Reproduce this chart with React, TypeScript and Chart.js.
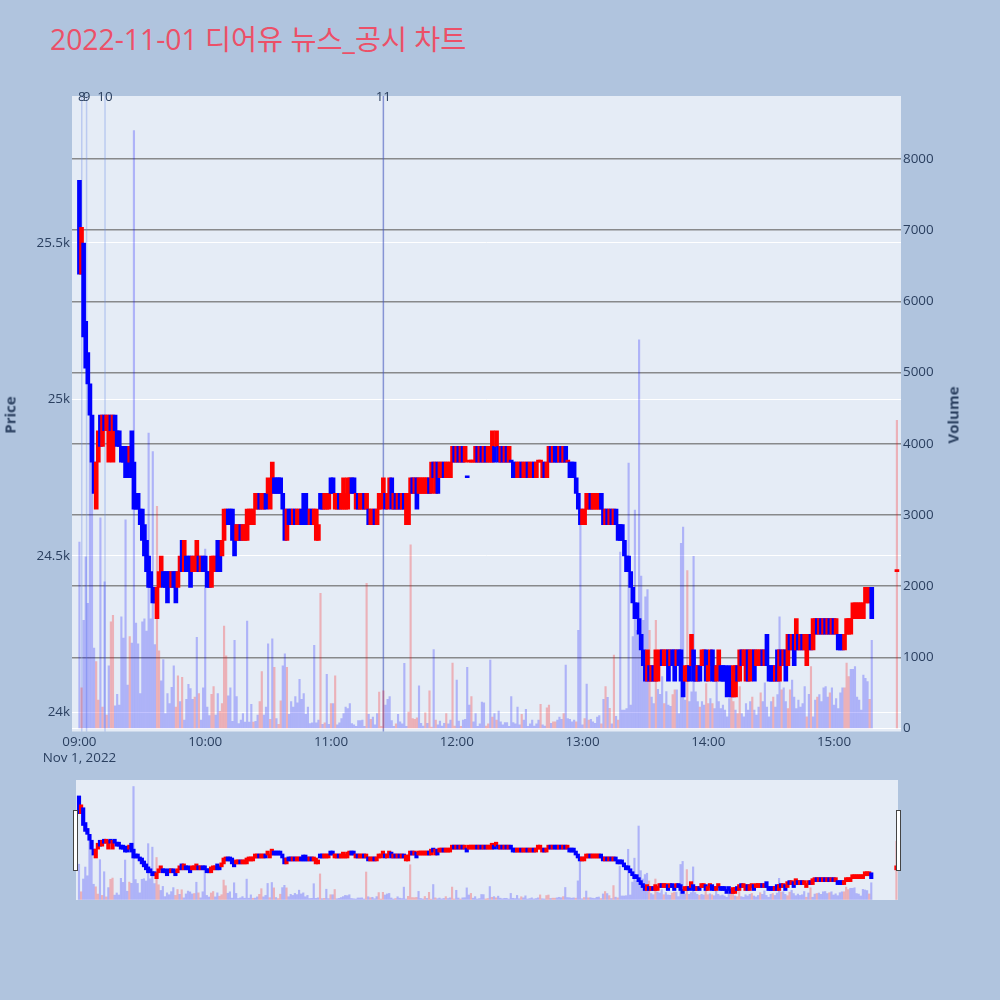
import React, { useEffect, useRef } from 'react';
import { Chart, registerables } from 'chart.js';

Chart.register(...registerables);

const TITLE = '2022-11-01 디어유 뉴스_공시 차트';
const DATE_LABEL = 'Nov 1, 2022';
const PRICE_TITLE = 'Price';
const VOLUME_TITLE = 'Volume';

// minutes after 09:00 for the x axis ticks
const timeTicks = [0, 60, 120, 180, 240, 300, 360];
const priceTicks = [24000, 24500, 25000, 25500];
const volumeTicks = [0, 1000, 2000, 3000, 4000, 5000, 6000, 7000, 8000];

// one candle per minute, split by hour
const opens09 = [25700,25400,25500,25250,25150,25050,24950,24800,24650,24800, 24950,24850,24950,24900,24800,24950,24800,24950,24900,24900, 24850,24850,24850,24850,24800,24900,24800,24700,24700,24650, 24650,24600,24550,24500,24450,24400,24400,24300,24400,24450, 24450,24450,24450,24450,24400,24450,24450,24400,24450,24550, 24450,24500,24500,24500,24450,24450,24450,24500,24450,24500];
const closes09 = [25400,25550,25200,25100,25050,24950,24800,24700,24800,24900, 24850,24950,24900,24950,24950,24900,24950,24900,24850,24850, 24800,24800,24750,24750,24850,24750,24650,24650,24650,24600, 24550,24500,24450,24400,24400,24350,24350,24400,24450,24500, 24400,24400,24350,24400,24450,24400,24350,24450,24500,24450, 24550,24450,24450,24400,24500,24500,24550,24450,24500,24450];

const opens10 = [24500,24450,24450,24400,24450,24450,24550,24500,24500,24550, 24600,24650,24650,24650,24600,24550,24550,24600,24550,24550, 24550,24600,24600,24600,24650,24650,24700,24650,24650,24700, 24700,24650,24700,24750,24750,24750,24750,24700,24650,24550, 24650,24650,24600,24650,24600,24600,24650,24700,24700,24650, 24600,24650,24600,24550,24550,24700,24700,24650,24650,24650];
const closes10 = [24450,24400,24400,24500,24500,24500,24450,24450,24550,24650, 24650,24600,24600,24550,24500,24600,24600,24550,24600,24600, 24650,24650,24650,24650,24700,24700,24650,24700,24700,24650, 24750,24700,24800,24700,24700,24700,24700,24650,24550,24650, 24600,24600,24650,24600,24650,24650,24600,24600,24600,24600, 24650,24600,24650,24650,24600,24650,24650,24700,24700,24700];

const opens11 = [24750,24750,24650,24650,24700,24650,24650,24650,24650,24700, 24750,24750,24650,24700,24650,24650,24700,24650,24650,24600, 24600,24650,24600,24650,24650,24700,24700,24650,24700,24750, 24650,24700,24650,24700,24650,24700,24600,24600,24700,24750, 24700,24750,24700,24700,24700,24700,24700,24750,24700,24800, 24700,24800,24750,24750,24800,24750,24750,24750,24800,24850];
const closes11 = [24700,24700,24700,24700,24650,24700,24750,24700,24750,24750, 24700,24700,24700,24650,24700,24700,24650,24700,24600,24650, 24650,24600,24650,24700,24700,24750,24650,24700,24750,24650, 24700,24650,24700,24650,24700,24650,24700,24700,24750,24700, 24750,24650,24750,24750,24750,24750,24750,24700,24800,24750, 24800,24700,24800,24800,24750,24800,24800,24800,24850,24800];

const opens12 = [24800,24850,24800,24850,24800,24750,24800,24800,24800,24800, 24850,24800,24850,24800,24850,24800,24800,24800,24850,24850, 24850,24800,24850,24800,24850,24800,24800,24800,24800,24750, 24750,24800,24750,24750,24800,24750,24750,24800,24750,24800, 24800,24750,24800,24750,24800,24850,24800,24850,24850,24800, 24850,24800,24850,24800,24800,24800,24800,24750,24700,24650];
const closes12 = [24850,24800,24850,24800,24850,24750,24800,24800,24800,24850, 24800,24850,24800,24850,24800,24850,24850,24900,24800,24900, 24800,24850,24800,24850,24800,24850,24800,24750,24750,24800, 24800,24750,24800,24800,24750,24800,24800,24750,24800,24800, 24800,24800,24750,24800,24850,24800,24850,24800,24800,24850, 24800,24850,24800,24800,24750,24750,24750,24700,24650,24600];

const opens13 = [24600,24600,24650,24650,24700,24650,24650,24650,24650,24700, 24650,24600,24650,24600,24650,24600,24650,24600,24600,24600, 24550,24500,24500,24450,24400,24350,24350,24300,24250,24200, 24150,24100,24150,24100,24150,24100,24100,24150,24200,24150, 24150,24200,24150,24200,24200,24150,24200,24200,24100,24100, 24100,24150,24150,24200,24150,24100,24150,24150,24150,24200];
const closes13 = [24650,24650,24700,24700,24650,24700,24700,24700,24700,24650, 24600,24650,24600,24650,24600,24650,24600,24550,24550,24550, 24500,24450,24450,24400,24350,24300,24300,24250,24200,24150, 24100,24200,24100,24150,24100,24200,24150,24200,24150,24200, 24200,24100,24200,24150,24100,24200,24150,24100,24050,24150, 24150,24100,24250,24100,24100,24150,24100,24200,24200,24100];

const opens14 = [24100,24150,24200,24150,24100,24150,24150,24150,24150,24100, 24150,24100,24050,24050,24150,24100,24200,24150,24100,24200, 24100,24150,24200,24150,24150,24150,24200,24150,24250,24150, 24150,24150,24100,24200,24100,24200,24150,24200,24150,24250, 24200,24250,24200,24250,24200,24250,24200,24150,24200,24250, 24200,24250,24300,24250,24300,24250,24300,24250,24300,24250];
const closes14 = [24150,24200,24100,24100,24150,24200,24100,24100,24100,24050, 24100,24050,24150,24150,24100,24200,24150,24200,24200,24100, 24200,24200,24100,24200,24200,24200,24150,24200,24150,24100, 24100,24100,24150,24100,24200,24150,24200,24100,24250,24200, 24250,24150,24300,24200,24250,24200,24250,24200,24250,24200, 24300,24300,24250,24300,24250,24300,24250,24300,24250,24300];

const opens15 = [24300,24250,24250,24250,24250,24200,24250,24250,24250,24300,24300,24300,24300,24300,24300,24350,24350,24350,24400];
const closes15 = [24250,24300,24200,24200,24200,24250,24300,24300,24300,24350,24350,24350,24350,24350,24350,24400,24400,24400,24300];

const vol09 = [2620,570,1520,2410,1760,4400,3900,1130,940,400, 2960,300,2060,190,880,1500,1590,320,480,330, 1570,1270,2930,610,1290,1200,8400,1480,1190,490, 1500,1540,1370,4150,1540,3890,1180,3120,1090,670, 970,210,490,350,580,880,300,740,380,720, 120,410,620,560,410,440,1280,490,120,570];
const vol10 = [2520,300,180,480,590,190,490,240,350,1440, 1020,460,570,100,1240,450,70,120,210,90, 1510,90,340,90,100,190,380,800,190,300, 1190,130,1260,860,140,60,390,880,1050,860, 200,380,300,450,360,690,410,490,200,300, 70,80,1170,80,120,1900,60,80,760,60];
const vol11 = [350,350,740,50,80,140,210,300,280,350, 70,50,30,110,110,120,30,2040,200,130, 160,50,210,510,30,530,330,410,450,110, 30,65,200,95,65,915,30,230,2580,140, 130,150,600,73,35,220,73,530,20,1110, 120,50,105,35,73,210,65,120,920,35];
const vol12 = [680,105,30,120,130,860,330,450,95,210, 30,65,370,360,35,65,960,160,210,120, 245,95,50,85,85,30,450,85,65,300, 50,200,120,270,30,65,120,35,65,120, 340,50,35,290,330,73,95,95,120,160, 130,210,890,140,130,95,120,95,1380,2860];
const vol13 = [50,140,625,120,130,95,73,160,180,65, 410,590,437,283,65,1030,170,120,2480,260, 260,280,3730,330,1290,3070,1380,5460,2140,1520, 1850,1950,1380,440,350,1520,550,480,730,350, 520,330,310,475,545,545,210,2600,2830,400, 2220,380,515,2420,515,380,300,380,330,630];
const vol14 = [350,420,350,280,660,380,280,330,260,165, 420,440,380,260,210,590,210,165,350,260, 380,440,260,190,300,500,380,640,300,165, 380,440,300,475,1570,545,570,380,280,545, 680,440,280,400,300,350,590,165,480,870, 165,400,440,475,380,570,590,440,500,570];
const vol15 = [330,420,280,500,570,570,920,730,830,830,870,440,400,260,750,705,660,410,1240];

// closing single-price auction at 15:30
const closingMinute = 390;
const closingOpen = 24450;
const closingClose = 24450;
const closingVolume = 4330;

// minutes whose volume bar is drawn in red
const redVolumeMinutes = [1,8,9,11,13,15,16,24,37,38,46,47,49,55,57,63,64,67,68,69,70,83,86,87,91,93,95,96,99,115,117,120,122,137,139,143,144,145,151,157,158,159,160,161,165,167,168,170,175,178,179,182,187,194,195,197,199,211,220,223,224,226,227,231,237,241,243,249,251,253,255,257,272,275,279,283,284,290,296,299,300,302,311,312,314,315,321,325,331,335,338,339,347,349,352,358,365,366,367,377,390];

// news / disclosure markers
const newsLabels = ['8', '9', '10', '11'];
const newsMinutes = [1.1, 3.4, 12.2, 145];

// ---------- styling ----------
const UP = '#ff0000';
const DOWN = '#0000ff';
const VOL_UP = 'rgba(255,0,0,0.25)';
const VOL_DOWN = 'rgba(0,0,255,0.24)';
const PAPER = '#b0c4de';
const PLOT_BG = '#e5ecf6';
const TEXT = '#2a3f5f';
const NEWS_LINE_COLORS = ['rgba(110,140,230,0.35)', 'rgba(110,140,230,0.35)', 'rgba(110,140,230,0.35)', 'rgba(70,90,190,0.6)'];
const TICK_SIZE = 13.4;

const opens = [...opens09, ...opens10, ...opens11, ...opens12, ...opens13, ...opens14, ...opens15, closingOpen];
const closes = [...closes09, ...closes10, ...closes11, ...closes12, ...closes13, ...closes14, ...closes15, closingClose];
const volumes = [...vol09, ...vol10, ...vol11, ...vol12, ...vol13, ...vol14, ...vol15, closingVolume];
const minutes = [...opens09, ...opens10, ...opens11, ...opens12, ...opens13, ...opens14, ...opens15].map((_, i) => i).concat([closingMinute]);

const candleColors = opens.map((o, i) => {
  const c = closes[i];
  if (c > o) return UP;
  if (c < o) return DOWN;
  const prev = i > 0 ? closes[i - 1] : o;
  return c >= prev ? UP : DOWN;
});
const volumeColors = minutes.map((m) => (redVolumeMinutes.includes(m) ? VOL_UP : VOL_DOWN));

const candleData = minutes.map((m, i) => ({ x: m, y: [opens[i], closes[i]] }));
const volumeData = minutes.map((m, i) => ({ x: m, y: volumes[i] }));

const timeLabel = (v: number) => {
  const h = 9 + Math.floor(v / 60);
  const mm = v % 60;
  return `${String(h).padStart(2, '0')}:${String(mm).padStart(2, '0')}`;
};

const bgPlugin = {
  id: 'plotBg',
  beforeDraw(chart: any) {
    const { ctx, chartArea } = chart;
    ctx.save();
    ctx.fillStyle = PLOT_BG;
    ctx.fillRect(chartArea.left, chartArea.top, chartArea.right - chartArea.left, chartArea.bottom - chartArea.top);
    ctx.restore();
  },
};

const newsPlugin = {
  id: 'news',
  beforeDatasetsDraw(chart: any) {
    const { ctx, chartArea, scales } = chart;
    ctx.save();
    newsMinutes.forEach((m, k) => {
      const x = scales.x.getPixelForValue(m);
      ctx.strokeStyle = NEWS_LINE_COLORS[k];
      ctx.lineWidth = 1.5;
      ctx.beginPath();
      ctx.moveTo(x, chartArea.top);
      ctx.lineTo(x, chartArea.bottom);
      ctx.stroke();
    });
    ctx.restore();
  },
  afterDraw(chart: any) {
    const { ctx, chartArea, scales } = chart;
    ctx.save();
    ctx.fillStyle = TEXT;
    ctx.font = `${TICK_SIZE}px 'Open Sans'`;
    ctx.textAlign = 'center';
    ctx.textBaseline = 'middle';
    newsMinutes.forEach((m, k) => {
      const x = scales.x.getPixelForValue(m);
      ctx.fillText(newsLabels[k], x, chartArea.top + 1.5);
    });
    ctx.restore();
  },
};

const tickFont = { family: "'Open Sans', sans-serif", size: TICK_SIZE };

export default function App() {
  const mainRef = useRef<HTMLCanvasElement>(null);
  const miniRef = useRef<HTMLCanvasElement>(null);

  useEffect(() => {
    const main = new Chart(mainRef.current as HTMLCanvasElement, {
      type: 'bar',
      data: {
        datasets: [
          {
            label: 'candles',
            data: candleData as any,
            backgroundColor: candleColors,
            barThickness: 4,
            minBarLength: 2,
            grouped: false,
            yAxisID: 'y',
            order: 0,
          } as any,
          {
            label: 'volume',
            data: volumeData as any,
            backgroundColor: volumeColors,
            barThickness: 1.5,
            grouped: false,
            yAxisID: 'y1',
            order: 1,
          } as any,
        ],
      },
      options: {
        animation: false,
        responsive: false,
        maintainAspectRatio: false,
        events: [],
        layout: { padding: { top: 96, left: 0, right: 0, bottom: 0 } },
        plugins: { legend: { display: false }, tooltip: { enabled: false }, title: { display: false } },
        scales: {
          x: {
            type: 'linear',
            min: -3.55,
            max: 391.95,
            offset: false,
            grid: { display: false, drawTicks: false },
            border: { display: false },
            ticks: {
              autoSkip: false,
              maxRotation: 0,
              padding: 2.5,
              color: TEXT,
              font: { ...tickFont, lineHeight: 1.2 },
              callback: (v: any) => (v === 0 ? [timeLabel(v), DATE_LABEL] : timeLabel(v)),
            },
            afterBuildTicks: (s: any) => { s.ticks = timeTicks.map((value) => ({ value })); },
            afterFit: (s: any) => { s.height = 48.5; },
          },
          y: {
            type: 'linear',
            position: 'left',
            min: 23939.3,
            max: 25969.6,
            grid: { color: '#ffffff', lineWidth: 1, drawTicks: false },
            border: { display: false },
            ticks: {
              padding: 2,
              color: TEXT,
              font: tickFont,
              callback: (v: any) => `${v / 1000}k`,
            },
            afterBuildTicks: (s: any) => { s.ticks = priceTicks.map((value) => ({ value })); },
            afterFit: (s: any) => { s.width = 72; },
          },
          y1: {
            type: 'linear',
            position: 'right',
            min: -42,
            max: 8885,
            grid: {
              color: (ctx: any) => (ctx.tick && ctx.tick.value === 0 ? '#ffffff' : 'rgba(120,120,120,0.85)'),
              lineWidth: (ctx: any) => (ctx.tick && ctx.tick.value === 0 ? 1 : 1.5),
              drawTicks: false,
            },
            border: { display: false },
            ticks: {
              padding: 2,
              color: TEXT,
              font: tickFont,
              callback: (v: any) => String(v),
            },
            afterBuildTicks: (s: any) => { s.ticks = volumeTicks.map((value) => ({ value })); },
            afterFit: (s: any) => { s.width = 99; },
          },
        },
      } as any,
      plugins: [bgPlugin, newsPlugin],
    });

    const mini = new Chart(miniRef.current as HTMLCanvasElement, {
      type: 'bar',
      data: {
        datasets: [
          {
            label: 'candles',
            data: candleData as any,
            backgroundColor: candleColors,
            barThickness: 3.5,
            minBarLength: 4,
            grouped: false,
            yAxisID: 'y',
            order: 0,
          } as any,
          {
            label: 'volume',
            data: volumeData as any,
            backgroundColor: volumeColors,
            barThickness: 1.5,
            grouped: false,
            yAxisID: 'y1',
            order: 1,
          } as any,
        ],
      },
      options: {
        animation: false,
        responsive: false,
        maintainAspectRatio: false,
        events: [],
        layout: { padding: 0 },
        plugins: { legend: { display: false }, tooltip: { enabled: false } },
        scales: {
          x: { type: 'linear', display: false, min: -1.43, max: 390.75, offset: false },
          y: { type: 'linear', display: false, min: 23939.3, max: 25969.6 },
          y1: { type: 'linear', display: false, min: -42, max: 8885 },
        },
      } as any,
      plugins: [bgPlugin],
    });

    return () => {
      main.destroy();
      mini.destroy();
    };
  }, []);

  const axisTitle: React.CSSProperties = {
    position: 'absolute',
    transform: 'translate(-50%, -50%) rotate(-90deg)',
    fontFamily: "'Open Sans', sans-serif",
    fontWeight: 'bold',
    fontSize: 15,
    color: TEXT,
    whiteSpace: 'nowrap',
    lineHeight: '17px',
  };
  const handle: React.CSSProperties = {
    position: 'absolute',
    top: 810,
    width: 5,
    height: 61,
    boxSizing: 'border-box',
    border: '1px solid #444',
    background: '#ffffff',
  };

  return (
    <div style={{ position: 'fixed', left: 0, top: 0, width: 1000, height: 1000, background: PAPER, overflow: 'hidden' }}>
      <div
        style={{
          position: 'absolute',
          left: 50,
          top: 25,
          fontFamily: "'Open Sans', 'Noto Sans CJK KR', sans-serif",
          fontSize: 28.3,
          lineHeight: '28px',
          color: 'rgb(236,80,104)',
          whiteSpace: 'nowrap',
        }}
      >
        {TITLE}
      </div>
      <canvas ref={mainRef} width={1000} height={780} style={{ position: 'absolute', left: 0, top: 0 }} />
      <canvas ref={miniRef} width={822} height={120} style={{ position: 'absolute', left: 76, top: 780 }} />
      <div style={{ ...handle, left: 73 }} />
      <div style={{ ...handle, left: 896 }} />
      <div style={{ ...axisTitle, left: 10, top: 414.5 }}>{PRICE_TITLE}</div>
      <div style={{ ...axisTitle, left: 953, top: 414.5 }}>{VOLUME_TITLE}</div>
    </div>
  );
}
